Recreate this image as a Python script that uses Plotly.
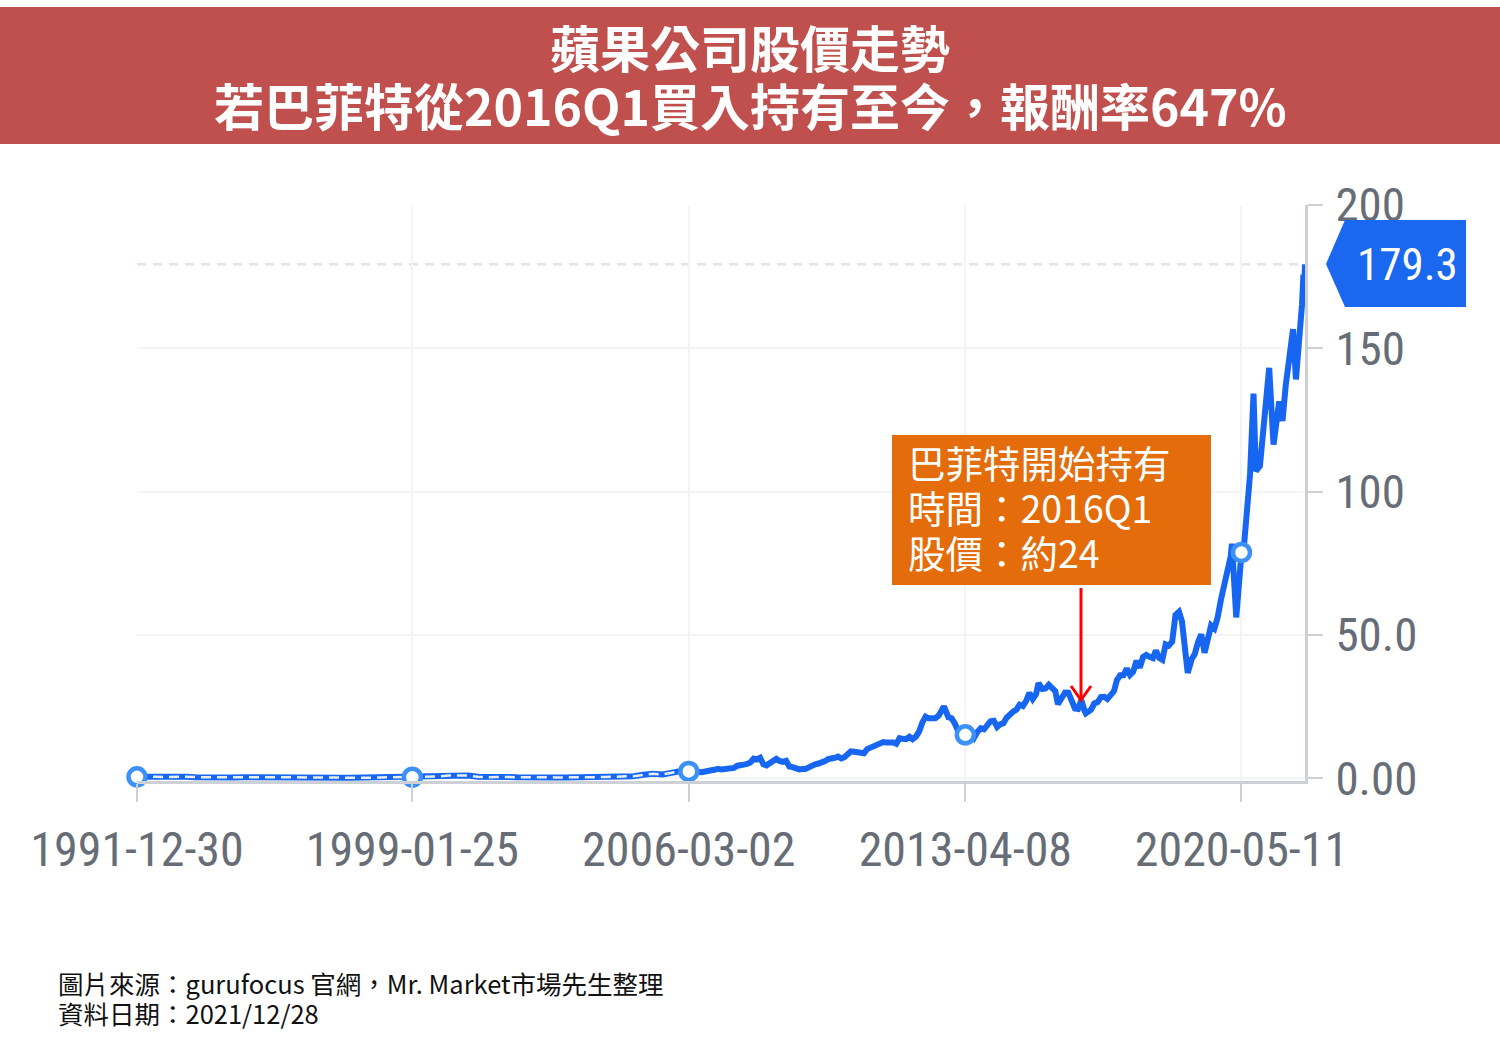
import plotly.graph_objects as go

# ---------------- data ----------------
dates = [
    "1991-12-30", "1992-03-31", "1992-06-30", "1992-09-30", "1992-12-31",
    "1993-03-31", "1993-06-30", "1993-09-30", "1993-12-31",
    "1994-03-31", "1994-06-30", "1994-09-30", "1994-12-31",
    "1995-03-31", "1995-06-30", "1995-09-30", "1995-12-31",
    "1996-03-31", "1996-06-30", "1996-09-30", "1996-12-31",
    "1997-03-31", "1997-06-30", "1997-09-30", "1997-12-31",
    "1998-03-31", "1998-06-30", "1998-09-30", "1998-12-31",
    "1999-01-25", "1999-04-30", "1999-06-30", "1999-09-30", "1999-12-31",
    "2000-03-31", "2000-06-30", "2000-09-30", "2000-12-31",
    "2001-03-31", "2001-06-30", "2001-09-30", "2001-12-31",
    "2002-03-31", "2002-06-30", "2002-09-30", "2002-12-31",
    "2003-03-31", "2003-06-30", "2003-09-30", "2003-12-31",
    "2004-03-31", "2004-06-30", "2004-09-30", "2004-12-31",
    "2005-03-31", "2005-06-30", "2005-09-30", "2005-12-31",
    "2006-03-02", "2006-04-30", "2006-05-31", "2006-06-30", "2006-07-31", "2006-08-31",
    "2006-09-30", "2006-10-31", "2006-11-30", "2006-12-31",
    "2007-01-31", "2007-02-28", "2007-03-31", "2007-04-30", "2007-05-31", "2007-06-30",
    "2007-07-31", "2007-08-31", "2007-09-30", "2007-10-31", "2007-11-30", "2007-12-31",
    "2008-01-31", "2008-02-29", "2008-03-31", "2008-04-30", "2008-05-31", "2008-06-30",
    "2008-07-31", "2008-08-31", "2008-09-30", "2008-10-31", "2008-11-30", "2008-12-31",
    "2009-01-31", "2009-02-28", "2009-03-31", "2009-04-30", "2009-05-31", "2009-06-30",
    "2009-07-31", "2009-08-31", "2009-09-30", "2009-10-31", "2009-11-30", "2009-12-31",
    "2010-01-31", "2010-02-28", "2010-03-31", "2010-04-30", "2010-05-31", "2010-06-30",
    "2010-07-31", "2010-08-31", "2010-09-30", "2010-10-31", "2010-11-30", "2010-12-31",
    "2011-01-31", "2011-02-28", "2011-03-31", "2011-04-30", "2011-05-31", "2011-06-30",
    "2011-07-31", "2011-08-31", "2011-09-30", "2011-10-31", "2011-11-30", "2011-12-31",
    "2012-01-31", "2012-02-29", "2012-03-31", "2012-04-30", "2012-05-31", "2012-06-30",
    "2012-07-31", "2012-08-31", "2012-09-19", "2012-10-31", "2012-11-30", "2012-12-31",
    "2013-01-31", "2013-02-28", "2013-03-31", "2013-04-08", "2013-04-19", "2013-05-31",
    "2013-06-30", "2013-07-31", "2013-08-31", "2013-09-30", "2013-10-31", "2013-11-30", "2013-12-31",
    "2014-01-31", "2014-02-28", "2014-03-31", "2014-04-30", "2014-05-31", "2014-06-30",
    "2014-07-31", "2014-08-31", "2014-09-30", "2014-10-31", "2014-11-30", "2014-12-31",
    "2015-01-31", "2015-02-23", "2015-03-31", "2015-04-30", "2015-05-31", "2015-06-30",
    "2015-07-31", "2015-08-24", "2015-09-30", "2015-10-31", "2015-11-30", "2015-12-31",
    "2016-01-31", "2016-02-29", "2016-03-31", "2016-04-30", "2016-05-12", "2016-06-30",
    "2016-07-31", "2016-08-31", "2016-09-30", "2016-10-31", "2016-11-30", "2016-12-31",
    "2017-01-31", "2017-02-28", "2017-03-31", "2017-04-30", "2017-05-31", "2017-06-30",
    "2017-07-31", "2017-08-31", "2017-09-30", "2017-10-31", "2017-11-30", "2017-12-31",
    "2018-01-31", "2018-02-28", "2018-03-31", "2018-04-30", "2018-05-31", "2018-06-30",
    "2018-07-31", "2018-08-31", "2018-10-03", "2018-10-31", "2018-11-30", "2018-12-24",
    "2019-01-31", "2019-02-28", "2019-03-31", "2019-04-30", "2019-05-31", "2019-06-30",
    "2019-07-31", "2019-08-31", "2019-09-30", "2019-10-31", "2019-11-30", "2019-12-31",
    "2020-01-31", "2020-02-12", "2020-02-28", "2020-03-23", "2020-04-30", "2020-05-11",
    "2020-05-31", "2020-06-30", "2020-07-31", "2020-09-01", "2020-09-23", "2020-10-31",
    "2020-11-30", "2020-12-31", "2021-01-26", "2021-02-28", "2021-03-08", "2021-04-30",
    "2021-05-31", "2021-06-30", "2021-07-31", "2021-08-31", "2021-09-07", "2021-10-04",
    "2021-10-31", "2021-11-30", "2021-12-13", "2021-12-20", "2021-12-28",
]
prices = [
    0.45, 0.55, 0.45, 0.42, 0.53,
    0.50, 0.35, 0.22, 0.26,
    0.33, 0.25, 0.32, 0.35,
    0.32, 0.42, 0.34, 0.28,
    0.22, 0.19, 0.20, 0.19,
    0.16, 0.13, 0.18, 0.12,
    0.24, 0.26, 0.34, 0.37,
    0.35, 0.40, 0.41, 0.58, 0.92,
    1.05, 0.93, 0.46, 0.27,
    0.39, 0.41, 0.28, 0.39,
    0.42, 0.32, 0.26, 0.26,
    0.25, 0.34, 0.37, 0.38,
    0.48, 0.58, 0.69, 1.15,
    1.49, 1.31, 1.91, 2.57,
    2.34, 2.51, 2.13, 2.04, 2.42, 2.41,
    2.75, 2.90, 3.27, 3.03,
    3.06, 3.00, 3.32, 3.56, 4.33, 4.36,
    4.70, 4.95, 5.48, 6.78, 6.50, 7.07,
    4.83, 4.47, 5.13, 6.21, 6.72, 5.98,
    5.67, 6.06, 4.06, 3.85, 3.29, 3.05,
    3.22, 3.19, 3.75, 4.49, 4.85, 5.09,
    5.84, 5.98, 6.62, 6.73, 7.11, 7.53,
    6.86, 7.31, 8.39, 9.33, 9.18, 8.98,
    9.19, 8.68, 10.13, 10.75, 11.12, 11.52,
    12.12, 12.61, 12.45, 12.50, 12.42, 11.99,
    13.95, 13.72, 13.62, 14.46, 13.59, 14.46,
    16.30, 19.37, 21.41, 20.86, 20.64, 20.86,
    21.79, 23.75, 25.00, 21.25, 20.90, 19.01,
    16.27, 15.81, 15.81, 15.10, 13.90, 16.06,
    14.15, 16.16, 17.40, 17.03, 18.67, 19.86, 20.04,
    17.88, 18.79, 19.17, 21.07, 22.61, 23.23,
    23.90, 25.63, 25.19, 27.00, 29.73, 27.59,
    29.29, 33.10, 31.11, 31.29, 32.57, 31.36,
    30.33, 25.80, 27.58, 29.88, 29.83, 26.32,
    24.33, 24.17, 27.25, 23.44, 22.60, 23.90,
    26.05, 26.53, 28.26, 28.39, 27.63, 28.96,
    30.34, 34.25, 35.92, 35.91, 38.19, 36.00,
    37.18, 41.00, 38.53, 42.26, 42.96, 42.31,
    41.86, 44.53, 41.95, 41.31, 46.72, 46.28,
    47.57, 56.91, 58.02, 54.72, 44.65, 36.70,
    41.61, 43.29, 47.49, 50.17, 43.77, 49.48,
    53.26, 52.19, 55.99, 62.19, 66.81, 73.41,
    77.38, 81.80, 68.34, 56.09, 73.45, 78.75,
    79.49, 91.20, 106.26, 134.20, 107.10, 108.86,
    119.05, 132.69, 143.16, 121.26, 116.36, 131.46,
    124.61, 136.96, 145.86, 151.83, 156.69, 139.14,
    149.80, 165.30, 175.74, 169.75, 179.30,
]

tick_dates = ["1991-12-30", "1999-01-25", "2006-03-02", "2013-04-08", "2020-05-11"]
tick_labels = ["1991-12-30", "1999-01-25", "2006-03-02", "2013-04-08", "2020-05-11"]
marker_values = [0.45, 0.35, 2.34, 15.10, 78.75]

y_ticks = [0, 50, 100, 150, 200]
y_tick_labels = ["0.00", "50.0", "100", "150", "200"]

last_value = prices[-1]
last_label = f"{last_value:.1f}"

title_line1 = "蘋果公司股價走勢"
title_line2 = "若巴菲特從2016Q1買入持有至今，報酬率647%"
note_lines = ["巴菲特開始持有", "時間：2016Q1", "股價：約24"]
footer_lines = ["圖片來源：gurufocus 官網，Mr. Market市場先生整理", "資料日期：2021/12/28"]

# ---------------- layout helpers (pixel -> paper) ----------------
W, H = 1500, 1042
L, R, T, B = 137, 195, 205, 261
PW, PH = W - L - R, H - T - B


def px(xp):
    return (xp - L) / PW


def py(yp):
    return (H - B - yp) / PH


CJK = "Noto Sans CJK TC, Noto Sans CJK SC, sans-serif"
NARROW = "Roboto Condensed, Roboto, sans-serif"
BLUE = "#1766F2"
GRAYTXT = "#676d76"

fig = go.Figure()

fig.add_trace(go.Scatter(
    x=dates, y=prices, mode="lines",
    line=dict(color=BLUE, width=6),
    hoverinfo="x+y", showlegend=False,
))

cut = dates.index("2006-03-02") + 1
fig.add_trace(go.Scatter(
    x=dates[:cut], y=prices[:cut], mode="lines",
    line=dict(color="#e6ecf3", width=2.5, dash="10px,6px"),
    hoverinfo="skip", showlegend=False,
))

fig.add_trace(go.Scatter(
    x=tick_dates, y=marker_values, mode="markers",
    marker=dict(symbol="circle", size=17, color="white",
                line=dict(color="#3b90fa", width=4.5)),
    cliponaxis=False, hoverinfo="skip", showlegend=False,
))

shapes = []
shapes.append(dict(type="rect", xref="paper", yref="paper",
                   x0=px(0), x1=px(W), y0=py(7), y1=py(144),
                   fillcolor="#C0504D", line=dict(width=0), layer="above"))
shapes.append(dict(type="line", xref="paper", yref="y",
                   x0=0, x1=1, y0=last_value, y1=last_value,
                   line=dict(color="#dfe5ec", width=2.5, dash="9px,7px"), layer="below"))
bx0, bx1, btip = 1345, 1466, 1326
by0, by1, bmid = 220, 307, 264
shapes.append(dict(
    type="path", xref="paper", yref="paper",
    path=(f"M {px(btip)} {py(bmid)} L {px(bx0)} {py(by0)} L {px(bx1)} {py(by0)} "
          f"L {px(bx1)} {py(by1)} L {px(bx0)} {py(by1)} Z"),
    fillcolor="#1A68F0", line=dict(width=0), layer="above"))
shapes.append(dict(type="rect", xref="paper", yref="paper",
                   x0=px(892), x1=px(1211), y0=py(435), y1=py(585),
                   fillcolor="#E46C0A", line=dict(width=0), layer="above"))
shapes.append(dict(type="line", xref="paper", yref="paper",
                   x0=px(1081), x1=px(1081), y0=py(588), y1=py(701),
                   line=dict(color="#FF0000", width=3), layer="above"))
shapes.append(dict(type="path", xref="paper", yref="paper",
                   path=f"M {px(1071)} {py(686)} L {px(1081)} {py(700)} L {px(1091)} {py(686)}",
                   line=dict(color="#FF0000", width=3), layer="above"))

annotations = []
for yc, t in ((46, title_line1), (104, title_line2)):
    annotations.append(dict(xref="paper", yref="paper", x=px(750), y=py(yc),
                            text=f"<b>{t}</b>", showarrow=False,
                            font=dict(family=CJK, size=50, color="white"),
                            xanchor="center", yanchor="middle"))
annotations.append(dict(xref="paper", yref="paper", x=px(1407), y=py(bmid),
                        text=last_label, showarrow=False,
                        font=dict(family=NARROW, size=45, color="white"),
                        xanchor="center", yanchor="middle"))
for i, t in enumerate(note_lines):
    annotations.append(dict(xref="paper", yref="paper", x=px(906), y=py(461 + 45 * i),
                            text=t, showarrow=False,
                            font=dict(family=CJK, size=37.5, color="white"),
                            xanchor="left", yanchor="middle"))
for i, t in enumerate(footer_lines):
    annotations.append(dict(xref="paper", yref="paper", x=px(56), y=py(982 + 30 * i),
                            text=t, showarrow=False,
                            font=dict(family=CJK, size=25.5, color="#111111"),
                            xanchor="left", yanchor="middle"))

fig.update_layout(
    width=W, height=H,
    margin=dict(l=L, r=R, t=T, b=B, autoexpand=False),
    paper_bgcolor="white", plot_bgcolor="white",
    shapes=shapes, annotations=annotations,
    xaxis=dict(
        type="date", range=["1991-12-30", "2021-12-28"],
        tickvals=tick_dates, ticktext=tick_labels,
        tickfont=dict(family=NARROW, size=48, color=GRAYTXT),
        ticks="outside", ticklen=18, tickwidth=2, tickcolor="#cdd1d6",
        ticklabelstandoff=6,
        showgrid=True, gridcolor="#f3f4f6", gridwidth=2,
        showline=True, linecolor="#cdd1d6", linewidth=3,
        zeroline=False,
    ),
    yaxis=dict(
        side="right", range=[-1, 200],
        tickvals=y_ticks, ticktext=y_tick_labels,
        tickfont=dict(family=NARROW, size=47, color=GRAYTXT),
        ticks="outside", ticklen=15, tickwidth=2, tickcolor="#cdd1d6",
        ticklabelstandoff=3,
        showgrid=True, gridcolor="#f3f4f6", gridwidth=2,
        showline=True, linecolor="#cdd1d6", linewidth=3,
        zeroline=False,
    ),
)

fig.write_html("out.html", config={"displayModeBar": False},
               post_script="document.body.style.margin='0';document.body.style.padding='0';")
